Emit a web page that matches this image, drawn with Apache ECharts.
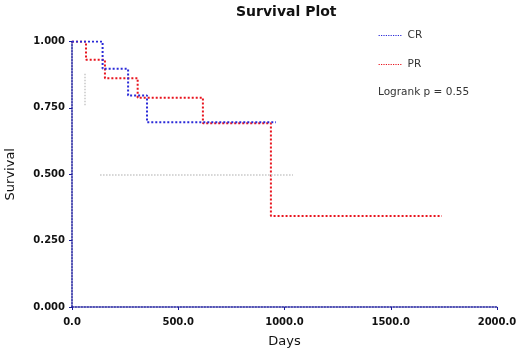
<!DOCTYPE html>
<html>
<head>
<meta charset="utf-8">
<script src="https://cdn.jsdelivr.net/npm/echarts@6/dist/echarts.min.js"></script>
<style>html,body{margin:0;padding:0;background:#fff}#c{width:520px;height:350px}</style>
</head>
<body>
<div id="c"></div>
<script>
var crTimes = [0, 144, 264, 353, 960];
var crSurv  = [1.000, 0.897, 0.797, 0.696, 0.696];
var prTimes = [0, 66, 155, 309, 616, 936, 1741];
var prSurv  = [1.000, 0.931, 0.862, 0.788, 0.692, 0.343, 0.343];
var xTicks = [0, 500, 1000, 1500, 2000];
var yTicks = [0, 0.25, 0.5, 0.75, 1];
var seriesNames = ['CR', 'PR'];
var pValueText = 'Logrank p = 0.55';

function pairs(t, s) { return t.map(function (v, i) { return [v, s[i]]; }); }

var chart = echarts.init(document.getElementById('c'), null, {renderer: 'canvas'});
var axisCol = '#1c1c9c';
chart.setOption({
  animation: false,
  backgroundColor: '#fff',
  title: [
    {text: 'Survival Plot', left: 231, top: 0,
     textStyle: {fontFamily: 'DejaVu Sans', fontSize: 14, fontWeight: 'bold', color: '#111'}},
    {text: pValueText, left: 373, top: 82,
     textStyle: {fontFamily: 'DejaVu Sans', fontSize: 10.5, fontWeight: 'normal', color: '#333'}}
  ],
  legend: {
    orient: 'vertical', left: 373, top: 25, itemGap: 18, itemWidth: 24, itemHeight: 8,
    data: seriesNames,
    itemStyle: {opacity: 0},
    lineStyle: {width: 1.2},
    textStyle: {fontFamily: 'DejaVu Sans', fontSize: 10.5, color: '#333'}
  },
  grid: {left: 72, right: 23, top: 41.5, bottom: 43, containLabel: false, outerBoundsMode: 'none'},
  xAxis: {
    type: 'value', min: xTicks[0], max: xTicks[xTicks.length - 1], interval: 500,
    name: 'Days', nameLocation: 'middle', nameGap: 28,
    nameTextStyle: {fontFamily: 'DejaVu Sans', fontSize: 13, color: '#111'},
    axisLine: {lineStyle: {color: axisCol, type: 'dotted', width: 1.5}},
    axisTick: {show: true, length: 3, lineStyle: {color: axisCol}},
    axisLabel: {formatter: function (v) { return v.toFixed(1); }, margin: 10,
      fontFamily: 'DejaVu Sans', fontSize: 10, fontWeight: 'bold', color: '#111'},
    splitLine: {show: false}
  },
  yAxis: {
    type: 'value', min: yTicks[0], max: yTicks[yTicks.length - 1], interval: 0.25,
    name: 'Survival', nameLocation: 'middle', nameGap: 55,
    nameTextStyle: {fontFamily: 'DejaVu Sans', fontSize: 13, color: '#111'},
    axisLine: {lineStyle: {color: axisCol, type: 'dotted', width: 1.5}},
    axisTick: {show: true, length: 3, lineStyle: {color: axisCol}},
    axisLabel: {formatter: function (v) { return v.toFixed(3); }, margin: 7,
      fontFamily: 'DejaVu Sans', fontSize: 10, fontWeight: 'bold', color: '#111'},
    splitLine: {show: false}
  },
  series: [
    {name: seriesNames[0], type: 'line', step: 'end', symbol: 'none',
     data: pairs(crTimes, crSurv), z: 3,
     lineStyle: {color: '#2a2ad8', width: 2, type: 'dotted'}, itemStyle: {color: '#2a2ad8'},
     markLine: {silent: true, symbol: 'none', label: {show: false},
       lineStyle: {color: '#c8c8c8', type: 'dotted', width: 1.5},
       data: [
         [{coord: [132, 0.5]}, {coord: [1040, 0.5]}],
         [{coord: [62, 0.76]}, {coord: [62, 0.88]}]
       ]}},
    {name: seriesNames[1], type: 'line', step: 'end', symbol: 'none',
     data: pairs(prTimes, prSurv), z: 2,
     lineStyle: {color: '#e8141e', width: 2, type: 'dotted'}, itemStyle: {color: '#e8141e'}}
  ]
});
</script>
</body>
</html>
